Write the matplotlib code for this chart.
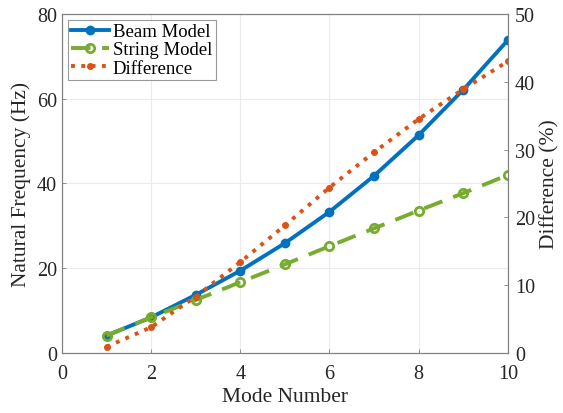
import numpy as np
import matplotlib.pyplot as plt

plt.rcParams['font.family'] = ['Liberation Serif', 'DejaVu Serif']

mode = [1, 2, 3, 4, 5, 6, 7, 8, 9, 10]
beam = [4.1, 8.4, 13.7, 19.4, 25.9, 33.3, 41.8, 51.4, 62.1, 73.8]
string = [4.1, 8.4, 12.5, 16.7, 20.9, 25.2, 29.4, 33.6, 37.7, 42.0]
diff = [0.9, 3.8, 8.3, 13.4, 18.8, 24.4, 29.6, 34.5, 38.9, 43.0]

blue = '#0072BD'
green = '#77AC30'
orange = '#D95319'

fig = plt.figure(figsize=(5.63, 4.14), dpi=100)
ax = fig.add_axes([0.110, 0.145, 0.792, 0.819])
ax2 = ax.twinx()

l1, = ax.plot(mode, beam, '-o', color=blue, lw=2.8, ms=6, label='Beam Model')
l2, = ax.plot(mode, string, '--o', color=green, lw=2.8, ms=6, mfc='none', mew=2,
              dashes=(5, 3), label='String Model')
l3, = ax2.plot(mode, diff, ':o', color=orange, lw=2.8, ms=4, label='Difference')

ax.set_xlim(0, 10)
ax.set_ylim(0, 80)
ax2.set_ylim(0, 50)
ax.set_xticks([0, 2, 4, 6, 8, 10])
ax.set_yticks([0, 20, 40, 60, 80])
ax2.set_yticks([0, 10, 20, 30, 40, 50])
ax.grid(True, color='#ebebeb', lw=0.8)
ax.set_axisbelow(True)

for a in (ax, ax2):
    a.tick_params(direction='in', labelsize=14.5, length=3, width=0.6,
                  color='#808080', labelcolor='#262626')
    for s in a.spines.values():
        s.set_color('#808080')
        s.set_linewidth(0.8)
ax.tick_params(axis='x', pad=8)
ax2.tick_params(axis='y', pad=5)

ax.set_xlabel('Mode Number', fontsize=15.5, labelpad=3, color='#262626')
ax.set_ylabel('Natural Frequency (Hz)', fontsize=15.5, color='#262626')
ax2.set_ylabel('Difference (%)', fontsize=15.5, color='#262626')

leg = ax.legend(handles=[l1, l2, l3], loc='upper left', fontsize=13.5, frameon=True,
                fancybox=False, edgecolor='#808080', borderpad=0.2, handlelength=2.0,
                handletextpad=0.2, labelspacing=0.05, borderaxespad=0.3)
leg.get_frame().set_linewidth(0.8)

fig.savefig('out.png', dpi=100)
